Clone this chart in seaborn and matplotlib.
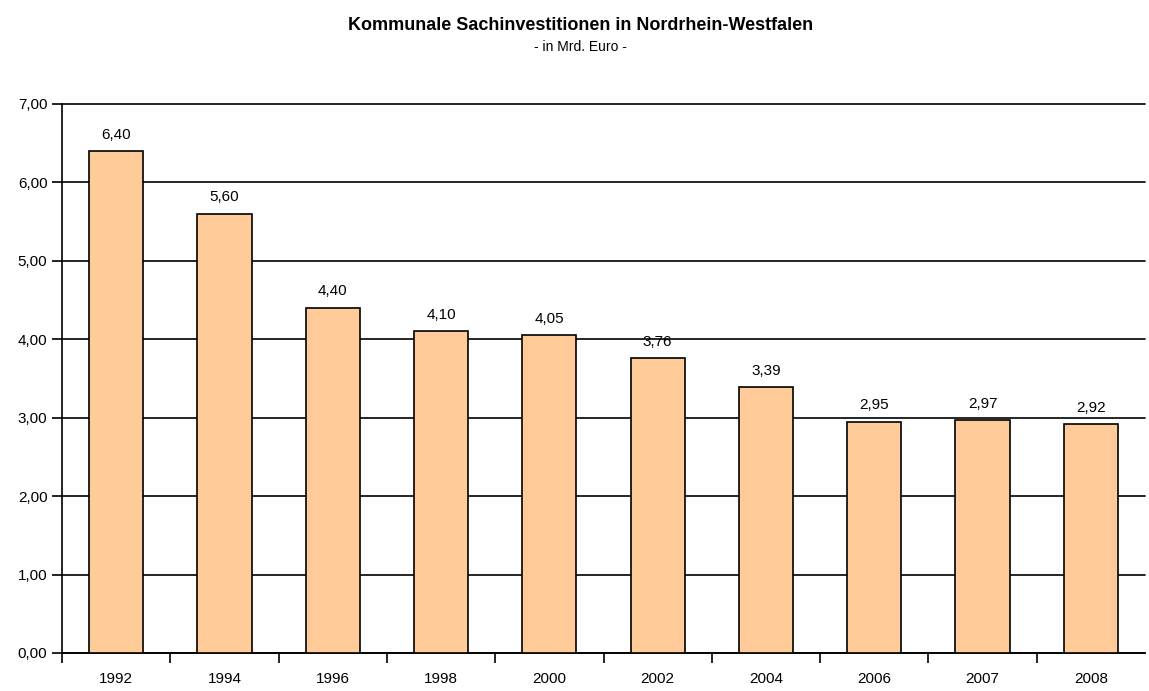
import matplotlib
matplotlib.use("Agg")
import matplotlib.pyplot as plt
import seaborn as sns
import numpy as np
import pandas as pd

# data
years = ["1992", "1994", "1996", "1998", "2000", "2002", "2004", "2006", "2007", "2008"]
values = [6.40, 5.60, 4.40, 4.10, 4.05, 3.76, 3.39, 2.95, 2.97, 2.92]
y_ticks = [0, 1, 2, 3, 4, 5, 6, 7]

sns.set_style("white", {'text.color': 'black', 'xtick.color': 'black', 'ytick.color': 'black',
                        'axes.labelcolor': 'black'})
plt.rcParams['font.family'] = ['Liberation Sans', 'DejaVu Sans']

df = pd.DataFrame({'Jahr': years, 'Wert': values})

fig = plt.figure(figsize=(11.49, 6.91), dpi=100)
ax = fig.add_axes([0.054, 0.055, 0.9425, 0.7945])

sns.barplot(data=df, x='Jahr', y='Wert', color='#FFCC99', saturation=1,
            width=0.5, edgecolor='black', linewidth=1.2, ax=ax, zorder=3)

ax.set_ylim(0, 7)
ax.set_xlim(-0.5, len(years) - 0.5)
ax.set_yticks(y_ticks)
ax.set_yticklabels([f"{t:.2f}".replace('.', ',') for t in y_ticks], fontsize=11)
ax.yaxis.grid(True, color='black', linewidth=1.2, zorder=0)
for gl in ax.get_ygridlines():
    gl.set_clip_on(False)
ax.set_axisbelow(True)

# x tick labels centred, tick marks between categories
ax.set_xticks(np.arange(-0.5, len(years) - 0.5, 1), minor=True)
ax.tick_params(axis='x', which='major', length=0, pad=14, labelsize=11, bottom=True)
ax.tick_params(axis='x', which='minor', length=7, width=1.2, color='black', direction='out', bottom=True)
ax.tick_params(axis='y', length=7, width=1.2, color='black', direction='out', left=True)

ax.set_xlabel('')
ax.set_ylabel('')
for s in ['top', 'right']:
    ax.spines[s].set_visible(False)
for s in ['left', 'bottom']:
    ax.spines[s].set_color('black')
    ax.spines[s].set_linewidth(1.2)

for i, v in enumerate(values):
    ax.text(i, v + 0.12, f"{v:.2f}".replace('.', ','), ha='center', va='bottom', fontsize=11, color='black')

fig.text(0.505, 0.963, 'Kommunale Sachinvestitionen in Nordrhein-Westfalen',
         ha='center', va='center', fontsize=13, fontweight='bold', color='black')
fig.text(0.505, 0.932, '- in Mrd. Euro -', ha='center', va='center', fontsize=10, color='black')

plt.savefig('out.png', dpi=100)
